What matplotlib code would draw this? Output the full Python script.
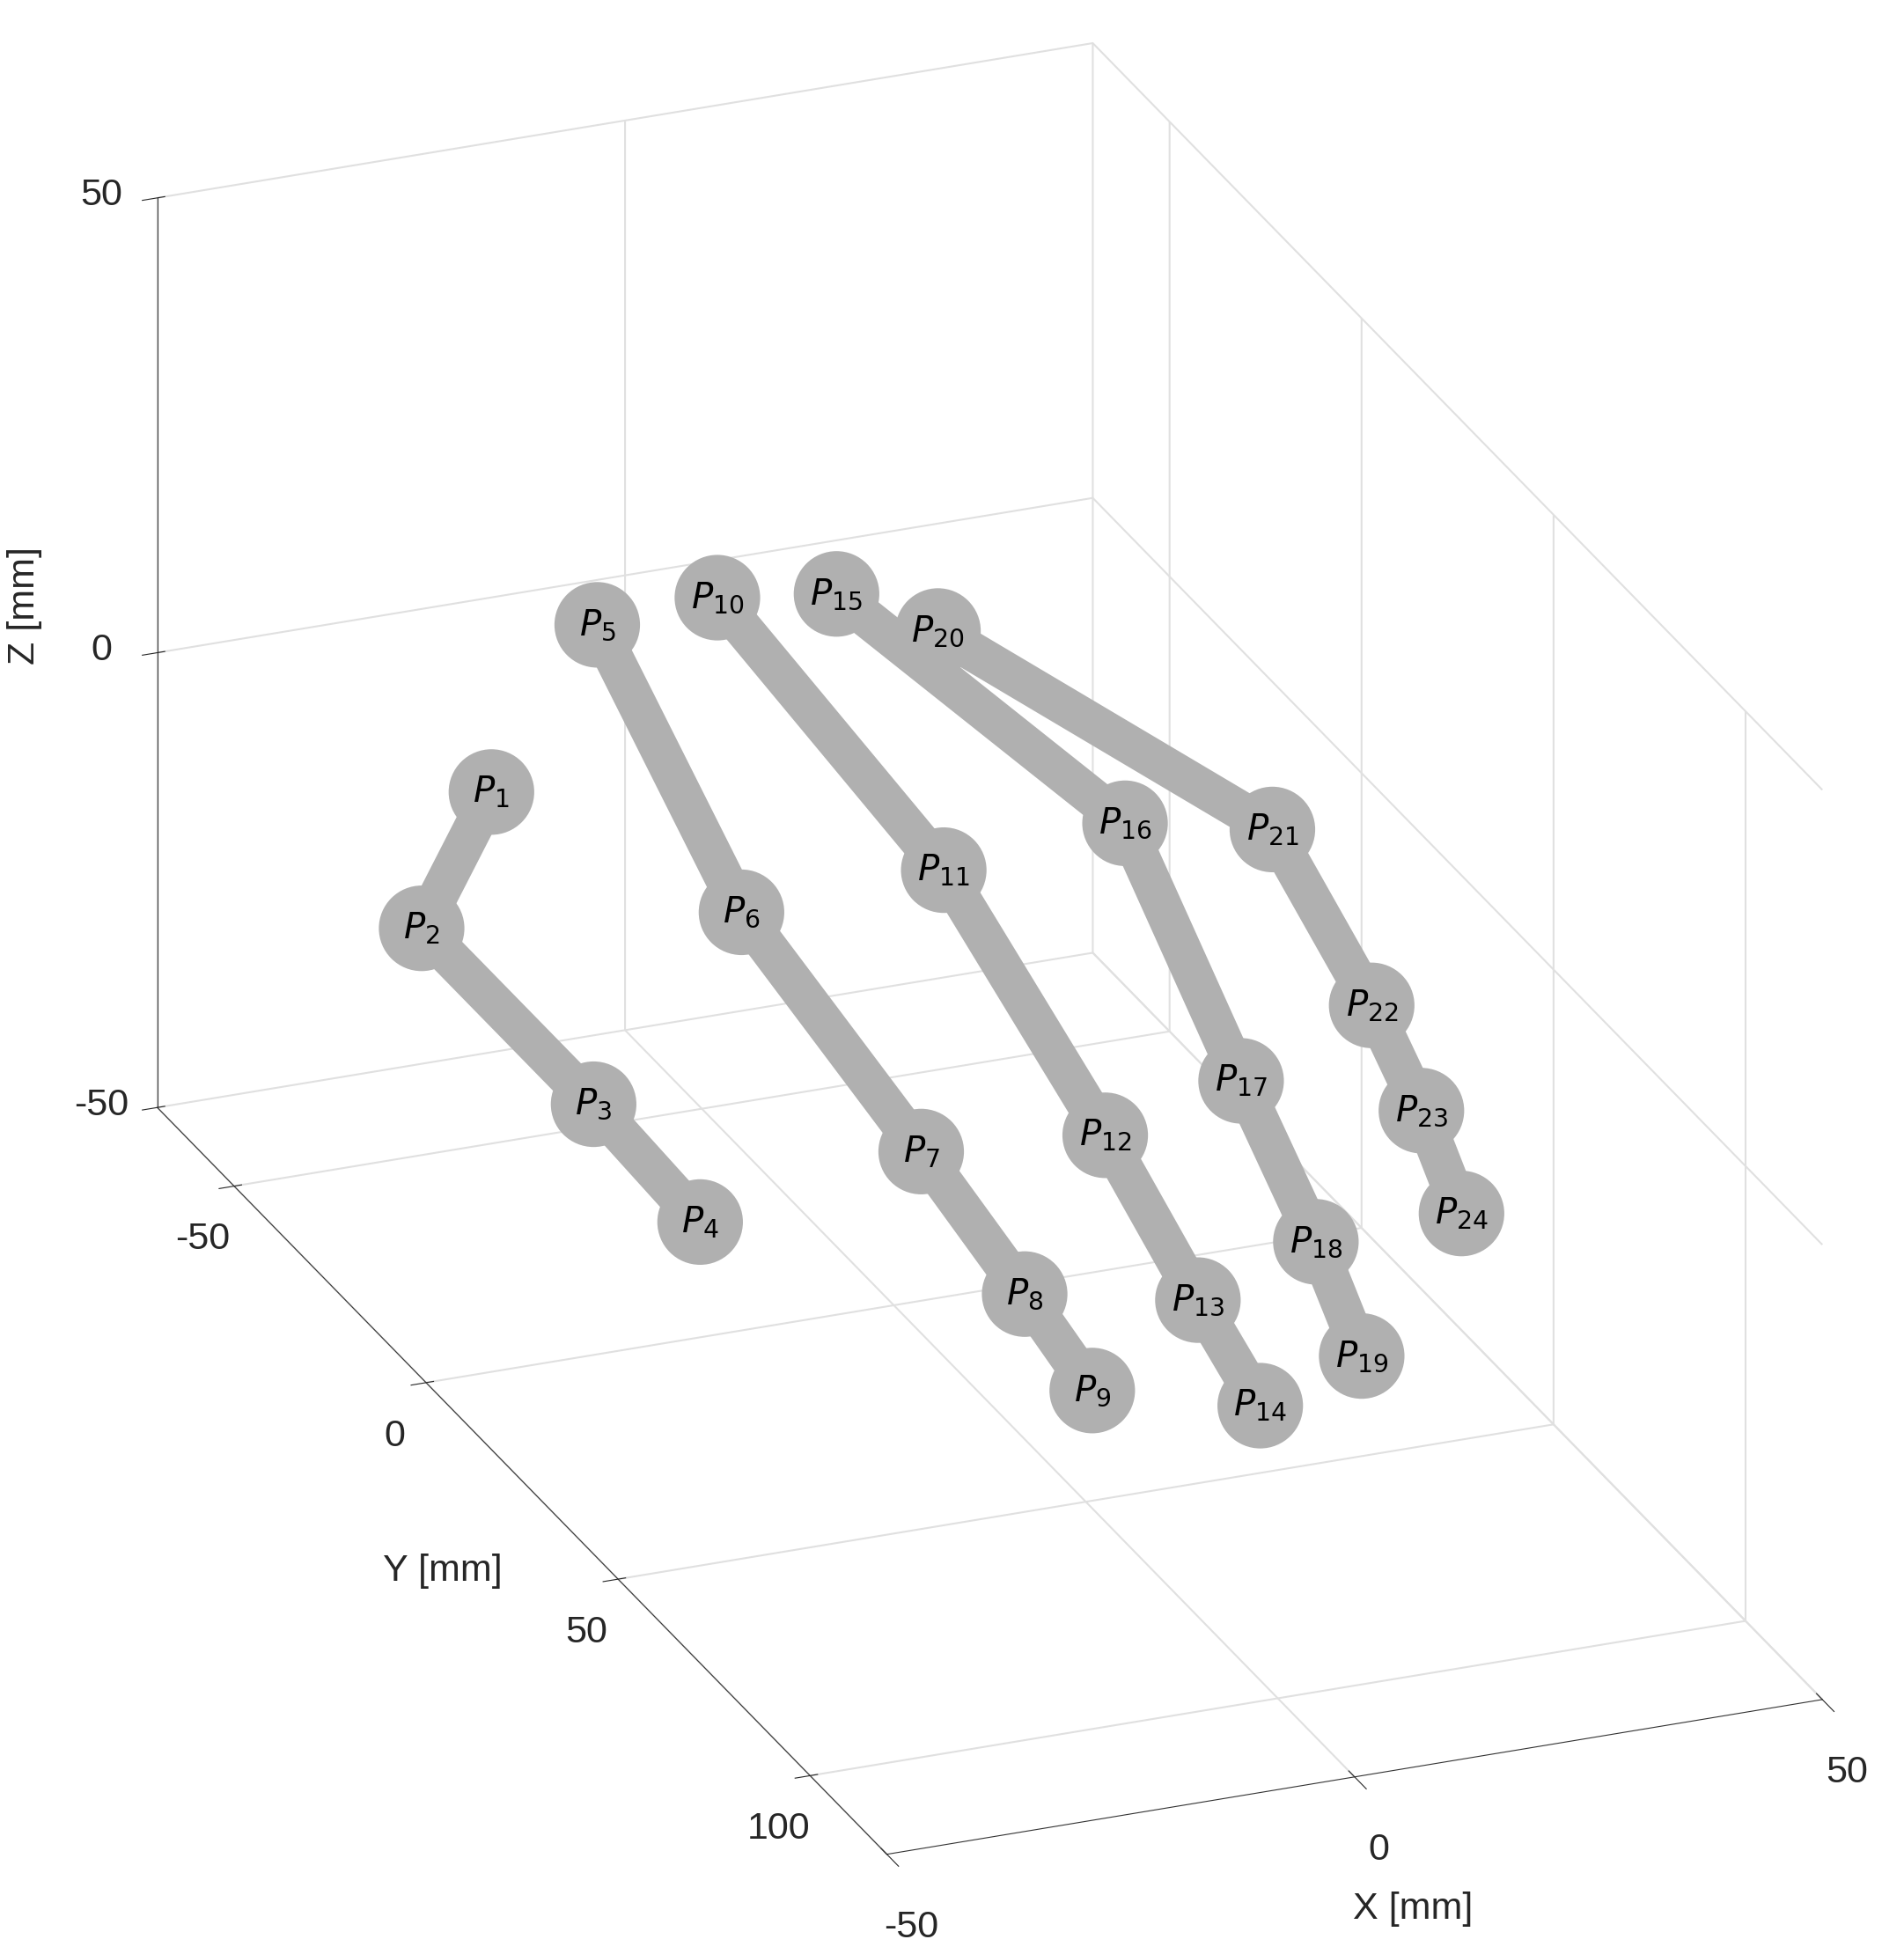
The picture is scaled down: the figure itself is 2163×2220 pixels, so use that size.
import matplotlib
matplotlib.use("Agg")
import matplotlib.pyplot as plt
import numpy as np

labels = [f"P{i}" for i in range(1, 25)]
xs = [-23.6, -34.1, -30.0, -26.7,
      -11.1, -11.4, -8.2, -7.4, -7.4,
      2.4, 11.0, 10.2, 8.0, 6.7,
      13.7, 31.9, 27.6, 24.1, 20.5,
      19.7, 44.9, 46.4, 45.6, 42.5]
ys = [-47.3, -39.9, -5.1, 14.6,
      -50.2, -11.9, 27.1, 52.1, 69.7,
      -51.8, -13.8, 30.2, 59.7, 79.1,
      -48.3, -17.5, 23.2, 51.2, 71.9,
      -36.5, -10.8, 11.4, 26.3, 44.3]
zs = [-10, -20, -25, -30,
      5, -10, -20, -25, -28,
      5, -10, -20, -25, -28,
      5, -10, -20, -25, -28,
      5, -10, -20, -25, -28]
chains = [[1, 2, 3, 4], [5, 6, 7, 8, 9], [10, 11, 12, 13, 14],
          [15, 16, 17, 18, 19], [20, 21, 22, 23, 24]]
xticks = [-50, 0, 50]
yticks = [-50, 0, 50, 100]
zticks = [-50, 0, 50]

plt.rcParams['font.family'] = ['Liberation Sans', 'DejaVu Sans']
plt.rcParams['axes.unicode_minus'] = False
fig = plt.figure(figsize=(21.63, 22.2), dpi=100)
ax = fig.add_axes([-0.045, -0.06, 1.1, 1.12], projection='3d', proj_type='ortho')
ax.view_init(elev=24.3, azim=-111.9)
ax.set_xlim(-50, 50)
ax.set_ylim(120, -70)
ax.set_zlim(-50, 50)
ax.set_box_aspect((1, 1.94, 0.99), zoom=1.12)

grey = '#b0b0b0'
for ch in chains:
    idx = [c - 1 for c in ch]
    ax.plot([xs[i] for i in idx], [ys[i] for i in idx], [zs[i] for i in idx],
            color=grey, lw=32, solid_capstyle='round', zorder=1)
ax.scatter(xs, ys, zs, s=70**2, color=grey, depthshade=False, edgecolors='none')
for i, lab in enumerate(labels):
    n = lab[1:]
    ax.text(xs[i], ys[i], zs[i], rf'$P_{{{n}}}$', fontsize=29,
            ha='center', va='center', zorder=10)

ax.set_xticks(xticks); ax.set_yticks(yticks); ax.set_zticks(zticks)
ax.tick_params(labelsize=31, pad=22, colors='#262626')
ax.xaxis.set_rotate_label(False)
ax.yaxis.set_rotate_label(False)
ax.set_xlabel('X [mm]', fontsize=31, labelpad=50, rotation=0, color='#262626')
ax.set_ylabel('Y [mm]', fontsize=31, labelpad=55, rotation=0, color='#262626')
ax.set_zlabel('Z [mm]', fontsize=31, labelpad=50, color='#262626')
for axis in (ax.xaxis, ax.yaxis, ax.zaxis):
    axis.set_pane_color((1, 1, 1, 0))
    axis.pane.set_edgecolor('#dddddd')
    axis._axinfo['grid']['color'] = '#e0e0e0'
    axis._axinfo['grid']['linewidth'] = 1.5
    axis.line.set_color('#333333')
fig.savefig('out.png', dpi=100, facecolor='white')
